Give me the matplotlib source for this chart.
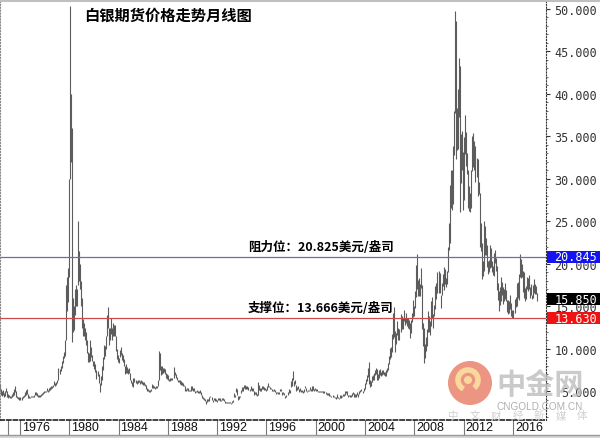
import numpy as np
import matplotlib
matplotlib.use('Agg')
import matplotlib.pyplot as plt
from matplotlib.patches import Rectangle, Ellipse, Arc
from matplotlib.transforms import blended_transform_factory

# monthly bars, first one is May 1974
START_YEAR = 1974
START_MONTH = 5

month_low = [
    5.0, 4.6, 4.5, 4.6, 4.3, 4.5, 4.9, 4.3,                          # 1974
    4.2, 4.3, 4.2, 4.2, 4.3, 4.5, 4.6, 4.9, 4.4, 4.2, 4.1, 4.0,      # 1975
    4.0, 4.0, 4.2, 4.3, 4.5, 4.6, 4.7, 4.2, 4.2, 4.2, 4.3, 4.3,      # 1976
    4.3, 4.4, 4.6, 4.6, 4.5, 4.4, 4.4, 4.4, 4.5, 4.6, 4.7, 4.8,      # 1977
    4.9, 4.9, 5.0, 4.9, 5.0, 5.2, 5.3, 5.4, 5.5, 5.8, 5.6, 5.8,      # 1978
    6.0, 6.3, 7.1, 7.4, 7.8, 8.3, 8.9, 9.2, 11.0, 14.5, 15.5, 18.5,  # 1979
    30.0, 32.0, 10.8, 12.0, 12.2, 14.0, 15.0, 15.0, 17.5, 18.0, 17.0, 15.0,  # 1980
    12.5, 11.5, 11.5, 11.0, 10.5, 9.5, 8.5, 8.5, 8.6, 9.0, 8.6, 8.0,  # 1981
    7.6, 7.3, 6.5, 6.8, 6.0, 4.9, 5.8, 6.3, 7.5, 8.8, 9.2, 10.0,     # 1982
    11.5, 12.5, 10.5, 11.0, 11.8, 11.0, 11.5, 11.5, 11.5, 9.8, 8.8, 8.5,  # 1983
    8.3, 9.0, 9.3, 8.7, 8.5, 8.0, 7.0, 7.2, 7.2, 7.0, 7.2, 6.3,      # 1984
    6.0, 5.6, 5.5, 6.1, 6.0, 5.9, 6.0, 6.1, 5.9, 6.0, 5.9, 5.8,      # 1985
    5.8, 5.6, 5.3, 5.0, 5.0, 4.95, 4.95, 5.0, 5.4, 5.4, 5.4, 5.3,    # 1986
    5.4, 5.4, 5.6, 6.3, 7.5, 6.9, 7.1, 7.2, 7.3, 7.0, 6.6, 6.5,      # 1987
    6.4, 6.2, 6.2, 6.3, 6.4, 6.6, 6.9, 6.6, 6.3, 6.1, 6.1, 5.9,      # 1988
    5.8, 5.8, 5.7, 5.6, 5.1, 5.1, 5.2, 5.1, 5.0, 5.0, 5.1, 5.2,      # 1989
    5.1, 5.1, 4.8, 4.9, 4.9, 4.8, 4.8, 4.8, 4.6, 4.2, 4.1, 4.0,      # 1990
    3.9, 3.55, 3.8, 3.9, 3.9, 4.3, 4.0, 3.8, 4.0, 3.9, 3.9, 3.8,     # 1991
    4.0, 4.0, 3.9, 3.9, 4.0, 4.0, 3.9, 3.7, 3.7, 3.7, 3.7, 3.6,      # 1992
    3.6, 3.5, 3.6, 3.8, 4.4, 4.3, 4.9, 4.6, 4.0, 4.1, 4.3, 4.8,      # 1993
    5.0, 5.1, 5.4, 5.3, 5.3, 5.3, 5.2, 5.0, 5.2, 5.1, 5.0, 4.6,      # 1994
    4.7, 4.6, 4.5, 4.6, 5.2, 5.1, 5.1, 5.3, 5.3, 5.2, 5.2, 5.1,      # 1995
    5.2, 5.5, 5.5, 5.3, 5.3, 5.0, 5.0, 5.1, 4.9, 4.7, 4.8, 4.7,      # 1996
    4.7, 5.0, 5.0, 4.6, 4.7, 4.6, 4.2, 4.3, 4.6, 4.8, 4.8, 5.5,      # 1997
    5.7, 6.3, 5.7, 5.9, 5.1, 5.2, 5.3, 4.9, 5.0, 4.9, 4.9, 4.8,      # 1998
    4.9, 5.4, 5.0, 4.9, 5.0, 5.0, 5.2, 5.1, 5.1, 5.2, 5.1, 5.2,      # 1999
    5.1, 5.0, 4.9, 4.9, 4.9, 4.9, 4.9, 4.8, 4.8, 4.7, 4.6, 4.6,      # 2000
    4.5, 4.5, 4.3, 4.3, 4.3, 4.3, 4.2, 4.1, 4.2, 4.2, 4.1, 4.2,      # 2001
    4.2, 4.3, 4.5, 4.5, 4.6, 4.8, 4.6, 4.4, 4.5, 4.4, 4.4, 4.5,      # 2002
    4.7, 4.4, 4.4, 4.4, 4.6, 4.4, 4.7, 4.9, 5.0, 4.8, 5.0, 5.3,      # 2003
    5.9, 6.2, 6.7, 5.9, 5.5, 5.6, 6.1, 6.4, 6.4, 6.9, 7.1, 6.4,      # 2004
    6.3, 6.6, 6.9, 6.8, 6.9, 7.0, 6.9, 6.8, 6.8, 7.3, 7.5, 8.2,      # 2005
    8.8, 9.0, 9.7, 11.2, 11.4, 9.6, 10.6, 11.7, 11.0, 11.0, 12.0, 12.3,  # 2006
    12.3, 13.3, 12.8, 13.1, 12.7, 12.5, 12.4, 11.3, 11.9, 13.2, 13.8, 13.9,  # 2007
    14.8, 16.1, 17.0, 16.2, 16.2, 16.2, 17.2, 12.4, 10.4, 8.4, 8.9, 9.8,  # 2008
    10.4, 12.0, 12.0, 11.6, 12.7, 13.6, 12.5, 13.9, 14.7, 15.9, 16.6, 16.6,  # 2009
    16.6, 14.8, 16.4, 17.4, 16.9, 17.6, 17.3, 17.6, 19.0, 21.7, 22.5, 26.6,  # 2010
    26.4, 27.0, 32.8, 37.8, 32.3, 33.4, 33.5, 37.3, 26.1, 29.5, 31.0, 26.4,  # 2011
    27.5, 32.9, 31.5, 30.6, 26.6, 26.2, 26.1, 26.6, 30.9, 31.4, 31.1, 29.7,  # 2012
    30.2, 28.0, 28.2, 22.0, 21.5, 18.2, 18.6, 19.2, 21.0, 21.0, 19.6, 18.8,  # 2013
    19.1, 19.5, 19.6, 19.0, 18.7, 18.6, 20.1, 19.2, 16.9, 15.8, 14.5, 15.2,  # 2014
    15.6, 16.3, 15.3, 15.6, 15.9, 15.6, 14.3, 14.1, 14.2, 14.7, 13.9, 13.6,  # 2015
    13.6, 14.2, 14.9, 15.0, 16.0, 15.8, 18.5, 18.3, 18.5, 16.7, 16.0, 15.6,  # 2016
    15.9, 17.1, 16.8, 17.0, 16.0, 16.3, 15.9, 16.0, 16.6, 16.5, 16.5, 15.7,  # 2017
]

month_high = [
    5.9, 5.3, 5.0, 5.2, 4.8, 5.0, 5.4, 5.0,                          # 1974
    4.7, 4.6, 4.5, 4.5, 4.7, 4.9, 5.3, 5.6, 5.0, 4.5, 4.4, 4.3,      # 1975
    4.3, 4.3, 4.5, 4.6, 4.9, 5.2, 5.3, 4.7, 4.5, 4.4, 4.5, 4.5,      # 1976
    4.5, 4.6, 4.9, 4.9, 4.8, 4.6, 4.6, 4.6, 4.7, 4.8, 4.9, 5.0,      # 1977
    5.1, 5.1, 5.4, 5.2, 5.4, 5.5, 5.6, 5.7, 5.8, 6.2, 6.0, 6.1,      # 1978
    6.4, 7.8, 7.7, 8.0, 8.6, 9.2, 9.6, 11.0, 17.5, 18.5, 19.5, 30.0, # 1979
    50.3, 40.0, 36.0, 16.0, 15.0, 17.0, 17.5, 17.0, 25.0, 21.5, 20.0, 18.0,  # 1980
    16.0, 13.5, 13.0, 12.5, 12.0, 11.0, 9.7, 9.5, 11.0, 10.2, 9.3, 8.6,  # 1981
    8.6, 8.2, 7.5, 7.4, 7.0, 6.0, 6.8, 8.0, 9.0, 10.5, 10.4, 11.5,   # 1982
    14.0, 14.9, 12.5, 12.5, 13.6, 12.5, 13.0, 12.8, 12.8, 11.5, 10.0, 9.3,  # 1983
    8.9, 9.9, 10.2, 9.5, 9.3, 8.8, 8.0, 8.2, 7.9, 7.6, 7.8, 7.2,     # 1984
    6.4, 6.1, 6.6, 6.6, 6.4, 6.2, 6.3, 6.4, 6.2, 6.3, 6.2, 6.1,      # 1985
    6.1, 5.9, 5.8, 5.4, 5.3, 5.2, 5.2, 5.3, 5.9, 5.8, 5.6, 5.5,      # 1986
    5.6, 5.6, 6.4, 9.8, 9.5, 8.0, 8.0, 7.8, 7.8, 7.6, 7.2, 7.1,      # 1987
    6.9, 6.5, 6.6, 6.6, 6.6, 7.9, 7.3, 7.0, 6.7, 6.4, 6.4, 6.3,      # 1988
    6.2, 6.1, 6.0, 5.8, 5.6, 5.3, 5.4, 5.4, 5.2, 5.2, 5.6, 5.6,      # 1989
    5.4, 5.4, 5.1, 5.1, 5.2, 5.0, 5.1, 5.2, 4.9, 4.6, 4.4, 4.2,      # 1990
    4.1, 3.9, 4.1, 4.1, 4.4, 4.5, 4.4, 4.0, 4.2, 4.2, 4.1, 4.0,      # 1991
    4.2, 4.2, 4.2, 4.0, 4.2, 4.2, 4.1, 3.9, 3.8, 3.8, 3.8, 3.8,      # 1992
    3.8, 3.7, 3.9, 4.0, 4.8, 4.6, 5.4, 5.3, 4.5, 4.5, 4.5, 5.2,      # 1993
    5.5, 5.5, 5.8, 5.8, 5.6, 5.6, 5.5, 5.3, 5.7, 5.4, 5.4, 5.0,      # 1994
    4.9, 4.9, 4.7, 6.1, 5.8, 5.4, 5.4, 5.6, 5.6, 5.5, 5.4, 5.3,      # 1995
    5.7, 6.0, 5.7, 5.5, 5.4, 5.3, 5.2, 5.3, 5.2, 4.9, 4.9, 4.9,      # 1996
    4.9, 5.3, 5.3, 4.9, 4.9, 4.8, 4.5, 4.6, 4.9, 5.3, 5.2, 6.2,      # 1997
    6.6, 7.4, 6.2, 6.4, 5.8, 5.5, 5.6, 5.3, 5.4, 5.2, 5.2, 5.0,      # 1998
    5.3, 5.6, 5.4, 5.1, 5.2, 5.2, 5.5, 5.3, 5.6, 5.6, 5.3, 5.4,      # 1999
    5.3, 5.3, 5.1, 5.1, 5.0, 5.1, 5.1, 5.0, 5.0, 4.9, 4.8, 4.8,      # 2000
    4.8, 4.6, 4.5, 4.4, 4.6, 4.5, 4.3, 4.3, 4.7, 4.4, 4.2, 4.6,      # 2001
    4.6, 4.5, 4.7, 4.7, 5.0, 5.1, 5.0, 4.6, 4.6, 4.6, 4.6, 4.8,      # 2002
    4.9, 4.8, 4.7, 4.7, 4.9, 4.7, 5.1, 5.2, 5.3, 5.1, 5.4, 6.0,      # 2003
    6.5, 6.9, 7.8, 8.5, 6.3, 6.2, 6.8, 6.9, 7.2, 7.5, 7.8, 7.6,      # 2004
    7.0, 7.5, 7.6, 7.3, 7.5, 7.5, 7.3, 7.3, 7.5, 7.8, 8.3, 9.2,      # 2005
    10.1, 10.2, 11.8, 14.2, 14.9, 12.1, 11.9, 13.3, 12.5, 12.4, 14.1, 13.9,  # 2006
    13.6, 14.6, 13.7, 14.2, 13.7, 13.6, 13.4, 13.0, 13.4, 14.2, 15.8, 15.0,  # 2007
    16.8, 19.9, 21.2, 18.1, 18.3, 17.7, 19.5, 17.5, 13.0, 12.5, 10.6, 11.4,  # 2008
    12.3, 14.5, 13.9, 13.3, 15.7, 16.1, 14.1, 15.2, 17.4, 17.8, 19.1, 19.2,  # 2009
    18.9, 16.4, 17.8, 18.8, 19.6, 19.4, 18.3, 19.2, 22.0, 24.8, 29.3, 31.0,  # 2010
    31.0, 33.9, 38.0, 49.8, 48.6, 38.4, 40.6, 44.2, 43.3, 35.3, 35.7, 33.2,  # 2011
    34.9, 37.5, 35.5, 33.0, 31.0, 29.2, 28.4, 31.0, 35.0, 35.4, 34.5, 33.9,  # 2012
    32.5, 32.4, 29.6, 28.3, 24.8, 22.5, 20.4, 25.1, 24.5, 23.0, 22.2, 20.3,  # 2013
    20.5, 22.2, 21.9, 20.3, 19.8, 21.3, 21.6, 20.7, 19.8, 17.8, 16.8, 17.3,  # 2014
    18.5, 17.9, 17.3, 17.0, 17.8, 16.9, 15.8, 15.8, 15.6, 16.4, 15.4, 14.6,  # 2015
    14.6, 15.9, 16.1, 17.8, 17.9, 18.8, 21.2, 20.6, 20.0, 19.2, 19.0, 17.2,  # 2016
    17.4, 18.5, 18.4, 18.7, 17.3, 17.6, 16.4, 17.5, 18.2, 17.6, 17.4, 16.6,  # 2017
]

year_ticks = [1976, 1980, 1984, 1988, 1992, 1996, 2000, 2004, 2008, 2012, 2016]
price_ticks = [5, 10, 15, 20, 25, 30, 35, 40, 45, 50]

resist_price = 20.845
support_price = 13.630
last_price = 15.850

title = '白银期货价格走势月线图'
resist_text = '阻力位：20.825美元/盎司'
support_text = '支撑位：13.666美元/盎司'

CJK = ['Noto Sans CJK SC', 'DejaVu Sans']
MONO = 'DejaVu Sans Mono'

W, H = 600.0, 439.0

t = START_YEAR + (START_MONTH - 1 + np.arange(len(month_low)) + 0.5) / 12.0

fig = plt.figure(figsize=(6, 4.39), dpi=100)
ax = fig.add_axes([0, (H - 421) / H, 546 / W, 419 / H])
ax.set_xlim(1974.38, 2018.68)
ax.set_ylim(1.647, 50.94)

ax.vlines(t, month_low, month_high, color='#5c5c5c', lw=0.8)

ax.axhline(resist_price, color='#6c6ca6', lw=0.9)
ax.axhline(support_price, color='#d04a4a', lw=0.9)

# right price axis
ax.yaxis.tick_right()
ax.set_yticks(price_ticks)
ax.set_yticklabels(['%.3f' % v for v in price_ticks], family=MONO,
                   fontsize=8.5, color='#333333')
ax.set_yticks(np.arange(2, 51, 1), minor=True)
ax.tick_params(axis='y', which='major', direction='out', length=3,
               width=0.8, pad=33.7, colors='#333333')
ax.tick_params(axis='y', which='minor', direction='out', length=1.5,
               width=0.6, colors='#555555')
for lab in ax.get_yticklabels():
    lab.set_horizontalalignment('right')
ax.set_xticks([])

ax.spines['top'].set_visible(False)
ax.spines['right'].set_linestyle(':')
ax.spines['right'].set_color('#333333')
ax.spines['left'].set_linestyle(':')
ax.spines['left'].set_color('#888888')
ax.spines['bottom'].set_linestyle((0, (2.5, 1.5)))
ax.spines['bottom'].set_color('#222222')
ax.spines['bottom'].set_linewidth(1.2)

# year labels in the strip below
tr_x = blended_transform_factory(ax.transData, fig.transFigure)
for yr in [1975] + year_ticks:
    ax.plot([yr, yr], [(H - 421) / H, (H - 435) / H], transform=tr_x,
            color='#777777', lw=0.8, clip_on=False)
for yr in year_ticks:
    ax.text(yr + 0.15, (H - 428.5) / H, str(yr), transform=tr_x,
            ha='left', va='center', fontsize=9, family='Liberation Sans',
            color='#111111', clip_on=False)

fig.add_artist(plt.Line2D([0, 1], [(H - 435.5) / H] * 2, color='#999999', lw=1))
fig.add_artist(Rectangle((0, 0), 1, (H - 436) / H, color='#d8d8d8', lw=0))
fig.add_artist(plt.Line2D([0, 1], [(H - 2) / H] * 2, color='#c0c0c0', lw=1.5))

# price boxes on the right
tr_y = blended_transform_factory(fig.transFigure, ax.transData)
for v, c in [(resist_price, '#1414f0'), (last_price, '#000000'),
             (support_price, '#ee1414')]:
    ax.add_patch(Rectangle((547 / W, v - 0.7), 53 / W, 1.4, transform=tr_y,
                           color=c, lw=0, clip_on=False, zorder=5))
    ax.text(597 / W, v, '%.3f' % v, transform=tr_y, ha='right', va='center',
            color='white', family=MONO, fontsize=8.5, clip_on=False, zorder=6)

# titles and notes
fig.text(168 / W, (H - 16) / H, title, ha='center', va='center',
         fontsize=11, weight='bold', family=CJK)
fig.text(248 / W, (H - 248) / H, resist_text, ha='left', va='center',
         fontsize=9, weight='bold', family=CJK)
fig.text(248 / W, (H - 309) / H, support_text, ha='left', va='center',
         fontsize=9, weight='bold', family=CJK)

# watermark
fig.add_artist(Ellipse((470 / W, (H - 384) / H), 44 / W, 44 / H,
                       color='#e9836d', alpha=0.85, lw=0))
fig.add_artist(Arc((468 / W, (H - 381) / H), 20 / W, 20 / H,
                   theta1=-60, theta2=250, color='#fbe0a0', lw=4, alpha=0.9))
fig.add_artist(Ellipse((468 / W, (H - 381) / H), 8 / W, 8 / H,
                       color='#fbe0a0', alpha=0.9, lw=0))
fig.text(540 / W, (H - 385) / H, '中金网', ha='center', va='center',
         fontsize=21, weight='bold', family=CJK, color='#bdbdbd', alpha=0.8)
fig.text(540 / W, (H - 407) / H, 'CNGOLD.COM.CN', ha='center', va='center',
         fontsize=7.2, family='Liberation Sans', color='#b0b0b0')
for i, ch in enumerate('中文财经新媒体'):
    fig.text((453 + i * 21.5) / W, (H - 416.5) / H, ch, ha='center',
             va='center', fontsize=7.5, family=CJK, color='#cfcfcf')

fig.savefig('out.png', dpi=100)
